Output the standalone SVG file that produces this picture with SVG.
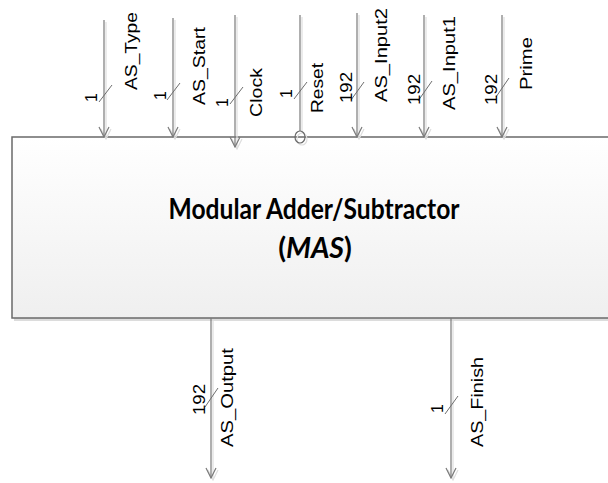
<svg xmlns="http://www.w3.org/2000/svg" xmlns:xlink="http://www.w3.org/1999/xlink" width="608" height="483" viewBox="0 0 608 483">
  <style>
    .wire { fill: none; stroke: #7a7a7a; stroke-width: 1.2; }
    .shadow { fill: none; stroke: #dedede; stroke-width: 1.2; }
    .tick { fill: none; stroke: #6e6e6e; stroke-width: 1; }
    .lbl { font-family: "Liberation Sans", Arial, sans-serif; font-size: 16.5px; fill: #000; }
    .bus { font-family: "Liberation Sans", Arial, sans-serif; font-size: 16px; fill: #000; }
    .title { font-family: Lato, "Liberation Sans", sans-serif; font-weight: bold; font-size: 28.5px; fill: #000; text-anchor: middle; }
  </style>
  <defs>
    <linearGradient id="boxFill" x1="0" y1="0" x2="0" y2="1">
      <stop offset="0" stop-color="#ffffff"/>
      <stop offset="1" stop-color="#efefef"/>
    </linearGradient>
    <marker id="arrow" viewBox="0 0 12 12" refX="11" refY="6" markerWidth="12" markerHeight="12" markerUnits="userSpaceOnUse" orient="auto">
      <path d="M1,1 L11,6 L1,11" fill="none" stroke="#7a7a7a" stroke-width="1.2"/>
    </marker>
    <marker id="arrowShadow" viewBox="0 0 12 12" refX="11" refY="6" markerWidth="12" markerHeight="12" markerUnits="userSpaceOnUse" orient="auto">
      <path d="M1,1 L11,6 L1,11" fill="none" stroke="#dedede" stroke-width="1.2"/>
    </marker>
  </defs>

  <!-- MAS block -->
  <g id="mas">
    <rect x="14" y="140" width="604" height="181" fill="#dcdcdc"/>
    <rect x="12" y="137" width="606" height="181" fill="url(#boxFill)" stroke="#6a6a6a" stroke-width="1.5"/>
    <text class="title" x="314" y="219" textLength="291" lengthAdjust="spacingAndGlyphs">Modular Adder/Subtractor</text>
    <text class="title" x="315" y="258">(<tspan font-style="italic">MAS</tspan>)</text>
  </g>

  <!-- signal wires -->
  <g id="connectors">
    <g transform="translate(2,2)">
      <line class="shadow" x1="104" y1="20" x2="104" y2="137" marker-end="url(#arrowShadow)"/>
      <line class="shadow" x1="173" y1="18" x2="173" y2="137" marker-end="url(#arrowShadow)"/>
      <line class="shadow" x1="235" y1="15" x2="235" y2="147" marker-end="url(#arrowShadow)"/>
      <line class="shadow" x1="300" y1="15" x2="300" y2="131"/>
      <ellipse class="shadow" cx="300" cy="137" rx="5" ry="6"/>
      <line class="shadow" x1="357" y1="13" x2="357" y2="137" marker-end="url(#arrowShadow)"/>
      <line class="shadow" x1="424" y1="15" x2="424" y2="137" marker-end="url(#arrowShadow)"/>
      <line class="shadow" x1="502" y1="15" x2="502" y2="137" marker-end="url(#arrowShadow)"/>
      <line class="shadow" x1="211" y1="318" x2="211" y2="478" marker-end="url(#arrowShadow)"/>
      <line class="shadow" x1="451" y1="318" x2="451" y2="478" marker-end="url(#arrowShadow)"/>
    </g>
    <line class="wire" x1="104" y1="20" x2="104" y2="137" marker-end="url(#arrow)"/>
    <line class="wire" x1="173" y1="18" x2="173" y2="137" marker-end="url(#arrow)"/>
    <line class="wire" x1="235" y1="15" x2="235" y2="147" marker-end="url(#arrow)"/>
    <line class="wire" x1="300" y1="15" x2="300" y2="131"/>
    <ellipse cx="300" cy="137" rx="5" ry="6" fill="none" stroke="#6a6a6a" stroke-width="1.2"/>
    <line class="wire" x1="357" y1="13" x2="357" y2="137" marker-end="url(#arrow)"/>
    <line class="wire" x1="424" y1="15" x2="424" y2="137" marker-end="url(#arrow)"/>
    <line class="wire" x1="502" y1="15" x2="502" y2="137" marker-end="url(#arrow)"/>
    <line class="wire" x1="211" y1="318" x2="211" y2="478" marker-end="url(#arrow)"/>
    <line class="wire" x1="451" y1="318" x2="451" y2="478" marker-end="url(#arrow)"/>

    <!-- bus-width ticks -->
    <path class="tick" d="M99,102 L112,85 M167,100 L180,83 M230,104 L243,87 M294,99 L307,82 M351,100 L364,82 M418,101 L432,81 M496,97 L509,78 M205,407 L218,388 M445,414 L458,396"/>
  </g>

  <!-- wire labels -->
  <g id="labels">
    <text class="lbl" transform="translate(137,90) rotate(-90)" textLength="78" lengthAdjust="spacingAndGlyphs">AS_Type</text>
    <text class="lbl" transform="translate(205,105) rotate(-90)" textLength="78" lengthAdjust="spacingAndGlyphs">AS_Start</text>
    <text class="lbl" transform="translate(262,117) rotate(-90)" textLength="49" lengthAdjust="spacingAndGlyphs">Clock</text>
    <text class="lbl" transform="translate(323,113) rotate(-90)" textLength="50" lengthAdjust="spacingAndGlyphs">Reset</text>
    <text class="lbl" transform="translate(387,102) rotate(-90)" textLength="94" lengthAdjust="spacingAndGlyphs">AS_Input2</text>
    <text class="lbl" transform="translate(455,110) rotate(-90)" textLength="94" lengthAdjust="spacingAndGlyphs">AS_Input1</text>
    <text class="lbl" transform="translate(532,90) rotate(-90)" textLength="53" lengthAdjust="spacingAndGlyphs">Prime</text>
    <text class="lbl" transform="translate(233,447) rotate(-90)" textLength="99" lengthAdjust="spacingAndGlyphs">AS_Output</text>
    <text class="lbl" transform="translate(483,447) rotate(-90)" textLength="90" lengthAdjust="spacingAndGlyphs">AS_Finish</text>

    <text class="bus" transform="translate(97,102) rotate(-90)">1</text>
    <text class="bus" transform="translate(166,100) rotate(-90)">1</text>
    <text class="bus" transform="translate(228,107) rotate(-90)">1</text>
    <text class="bus" transform="translate(292,98) rotate(-90)">1</text>
    <text class="bus" transform="translate(352,103) rotate(-90)" textLength="31" lengthAdjust="spacingAndGlyphs">192</text>
    <text class="bus" transform="translate(420,105) rotate(-90)" textLength="31" lengthAdjust="spacingAndGlyphs">192</text>
    <text class="bus" transform="translate(497,105) rotate(-90)" textLength="31" lengthAdjust="spacingAndGlyphs">192</text>
    <text class="bus" transform="translate(205,415) rotate(-90)" textLength="31" lengthAdjust="spacingAndGlyphs">192</text>
    <text class="bus" transform="translate(443,413) rotate(-90)">1</text>
  </g>
</svg>
